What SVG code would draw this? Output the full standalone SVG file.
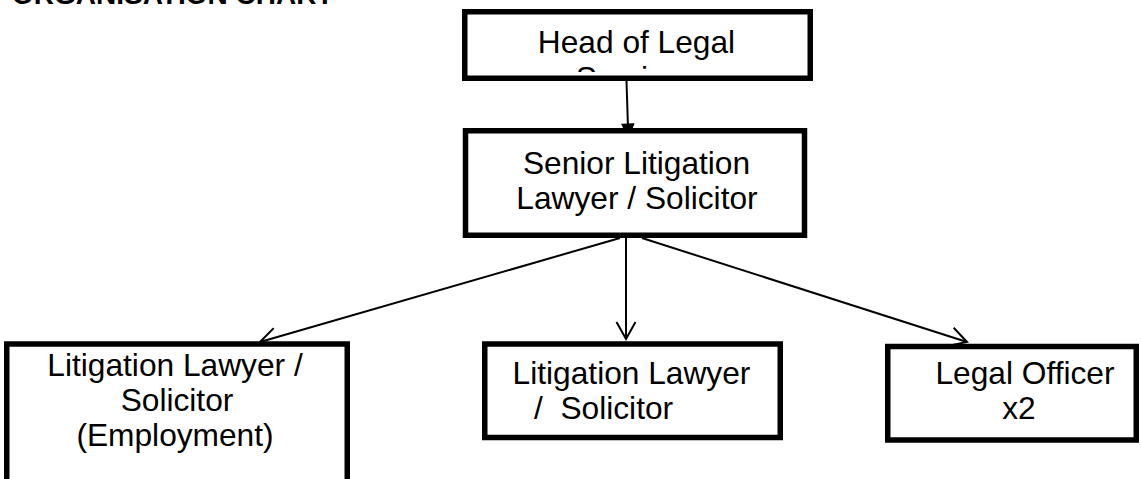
<svg xmlns="http://www.w3.org/2000/svg" width="1141" height="479" viewBox="0 0 1141 479">
  <style>
    .box { fill: #ffffff; stroke: #000000; stroke-width: 5.5; }
    .lbl { font-family: "Liberation Sans", Arial, sans-serif; font-size: 31.7px; fill: #000000; text-anchor: middle; }
    .title { font-family: "Liberation Sans", Arial, sans-serif; font-size: 28px; font-weight: bold; fill: #000000; }
    .conn { fill: none; stroke: #000000; stroke-width: 2; }
  </style>
  <defs>
    <marker id="open" markerUnits="userSpaceOnUse" markerWidth="24" markerHeight="24" refX="0" refY="0" viewBox="-20 -12 24 24" orient="auto" overflow="visible">
      <path d="M -17 -9.5 L 0 0 L -17 9.5" fill="none" stroke="#000000" stroke-width="2"/>
    </marker>
    <marker id="solid" markerUnits="userSpaceOnUse" markerWidth="20" markerHeight="20" refX="0" refY="0" viewBox="-16 -8 20 16" orient="auto" overflow="visible">
      <path d="M -14 -6 L 0 0 L -14 6 Z" fill="#000000" stroke="#000000" stroke-width="1"/>
    </marker>
    <clipPath id="headClip">
      <rect x="467" y="14" width="341" height="58"/>
    </clipPath>
  </defs>
  <rect width="1141" height="479" fill="#ffffff"/>

  <text class="title" x="12" y="4">ORGANISATION CHART</text>

  <g id="connectors">
    <line class="conn" x1="626.5" y1="81" x2="628.3" y2="138" marker-end="url(#solid)"/>
    <line class="conn" x1="626" y1="238" x2="626" y2="339" marker-end="url(#open)"/>
    <line class="conn" x1="620" y1="238" x2="260" y2="342" marker-end="url(#open)"/>
    <line class="conn" x1="642" y1="238" x2="967" y2="342" marker-end="url(#open)"/>
  </g>

  <g id="head">
    <rect class="box" x="464.75" y="11.75" width="345.5" height="66.5"/>
    <g clip-path="url(#headClip)">
      <text class="lbl" x="636.5" y="53">Head of Legal</text>
      <text class="lbl" x="636.5" y="89">Services</text>
    </g>
  </g>

  <g id="senior">
    <rect class="box" x="465.5" y="130.75" width="339" height="104.5"/>
    <text class="lbl" x="636.5" y="174">Senior Litigation</text>
    <text class="lbl" x="637" y="209">Lawyer / Solicitor</text>
  </g>

  <g id="lawyer-employment">
    <rect class="box" x="6.75" y="344" width="340.5" height="200"/>
    <text class="lbl" x="175" y="376">Litigation Lawyer /</text>
    <text class="lbl" x="177" y="411">Solicitor</text>
    <text class="lbl" x="175" y="446">(Employment)</text>
  </g>

  <g id="lawyer">
    <rect class="box" x="484.75" y="344" width="295.5" height="93.5"/>
    <text class="lbl" x="631.5" y="384">Litigation Lawyer</text>
    <text class="lbl" x="534" y="419" style="text-anchor:start" xml:space="preserve">/  Solicitor</text>
  </g>

  <g id="legal-officer">
    <rect class="box" x="887.75" y="346.5" width="248.5" height="93.5"/>
    <text class="lbl" x="1025" y="384">Legal Officer</text>
    <text class="lbl" x="1019" y="419">x2</text>
  </g>
</svg>
